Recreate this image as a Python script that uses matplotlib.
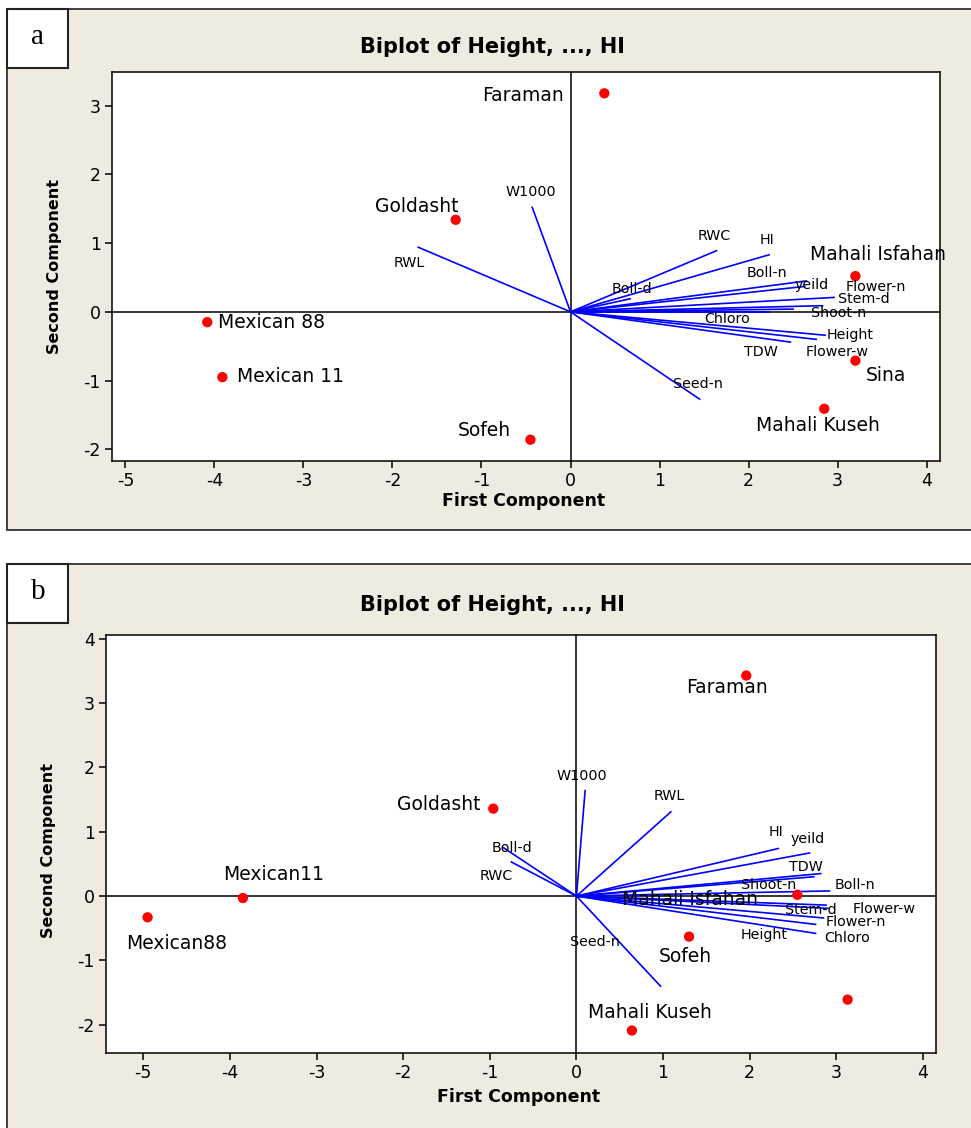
"""Two PCA biplots (panel a and panel b), Minitab style."""

import matplotlib
matplotlib.use('Agg')
import matplotlib.pyplot as plt
from matplotlib.patches import Rectangle

# Data
# Panel a - observations (scores)
obs_names_a = ['Faraman', 'Goldasht', 'Mexican 88', 'Mexican 11', 'Sofeh',
               'Mahali Isfahan', 'Sina', 'Mahali Kuseh']
obs_x_a = [0.38, -1.29, -4.08, -3.91, -0.45, 3.20, 3.20, 2.85]
obs_y_a = [3.18, 1.34, -0.15, -0.95, -1.86, 0.52, -0.71, -1.41]

# Panel a - variables (loadings)
var_names_a = ['W1000', 'RWL', 'RWC', 'HI', 'Boll-d', 'Boll-n', 'yeild',
               'Flower-n', 'Stem-d', 'Shoot-n', 'Chloro', 'Height',
               'Flower-w', 'TDW', 'Seed-n']
var_x_a = [-0.43, -1.71, 1.64, 2.23, 0.67, 2.65, 2.63, 2.96, 2.83, 2.50,
           2.23, 2.86, 2.76, 2.47, 1.45]
var_y_a = [1.52, 0.94, 0.89, 0.83, 0.19, 0.45, 0.37, 0.21, 0.09, 0.04,
           0.00, -0.34, -0.40, -0.44, -1.27]

# Panel b - observations
obs_names_b = ['Faraman', 'Goldasht', 'Mexican11', 'Mexican88', 'Sofeh',
               'Mahali Isfahan', 'Mahali Kuseh', '']
obs_x_b = [1.96, -0.96, -3.85, -4.95, 1.30, 2.55, 0.64, 3.13]
obs_y_b = [3.43, 1.36, -0.03, -0.33, -0.63, 0.02, -2.09, -1.61]

# Panel b - variables
var_names_b = ['W1000', 'RWL', 'Boll-d', 'RWC', 'Seed-n', 'HI', 'yeild',
               'TDW', 'Shoot-n', 'Boll-n', 'Stem-d', 'Flower-w', 'Flower-n',
               'Height', 'Chloro']
var_x_b = [0.10, 1.09, -0.84, -0.75, 0.97, 2.33, 2.69, 2.82, 2.74, 2.92,
           2.88, 2.90, 2.85, 2.76, 2.76]
var_y_b = [1.64, 1.31, 0.75, 0.53, -1.40, 0.74, 0.67, 0.35, 0.30, 0.08,
           -0.14, -0.19, -0.34, -0.44, -0.58]

# Label positions (data coords, text centres)
obs_lab_a = [(-0.53, 3.15), (-1.73, 1.54), (-3.36, -0.15), (-3.15, -0.94),
             (-0.97, -1.73), (3.45, 0.83), (3.54, -0.92), (2.78, -1.66)]
var_lab_a = [(-0.45, 1.74), (-1.81, 0.71), (1.61, 1.10), (2.21, 1.05),
             (0.69, 0.33), (2.21, 0.57), (2.71, 0.39), (3.43, 0.36),
             (3.29, 0.18), (3.01, -0.02), (1.76, -0.10), (3.14, -0.34),
             (3.00, -0.59), (2.14, -0.59), (1.43, -1.05)]
obs_lab_b = [(1.74, 3.24), (-1.59, 1.42), (-3.50, 0.33), (-4.62, -0.73),
             (1.26, -0.94), (1.31, -0.06), (0.85, -1.81), (0, 0)]
var_lab_b = [(0.06, 1.87), (1.07, 1.55), (-0.74, 0.75), (-0.92, 0.32),
             (0.21, -0.71), (2.30, 0.99), (2.67, 0.89), (2.65, 0.46),
             (2.22, 0.18), (3.22, 0.18), (2.70, -0.21), (3.55, -0.20),
             (3.23, -0.41), (2.17, -0.60), (3.12, -0.65)]

x_ticks = [-5, -4, -3, -2, -1, 0, 1, 2, 3, 4]
y_ticks_a = [-2, -1, 0, 1, 2, 3]
y_ticks_b = [-2, -1, 0, 1, 2, 3, 4]

W, H = 971, 1128
BEIGE = '#efebe1'

plt.rcParams['font.family'] = ['DejaVu Sans']
plt.rcParams['axes.unicode_minus'] = False

fig = plt.figure(figsize=(W / 100, H / 100), dpi=100)
fig.patch.set_facecolor('white')


def fx(px):
    return px / W


def fy(py):
    return 1 - py / H


def frame(left, top, right, bottom, label):
    # beige panel and the little white label box
    fig.add_artist(Rectangle((fx(left), fy(bottom)), fx(right - left), (bottom - top) / H,
                             transform=fig.transFigure, facecolor=BEIGE,
                             edgecolor='#333333', lw=1.3, zorder=-2))
    fig.add_artist(Rectangle((fx(left), fy(top + 59)), fx(61), 59 / H,
                             transform=fig.transFigure, facecolor='white',
                             edgecolor='#222222', lw=1.5, zorder=-1))
    fig.text(fx(left + 31), fy(top + 28), label, fontsize=21,
             family='Liberation Serif', ha='center', va='center')


def biplot(ax, ox, oy, onames, olab, vx, vy, vnames, vlab, xlim, ylim, yticks):
    ax.set_facecolor('white')
    ax.axhline(0, color='black', lw=1.1, zorder=1)
    ax.axvline(0, color='black', lw=1.1, zorder=1)
    for x, y in zip(vx, vy):
        ax.plot([0, x], [0, y], color='#0000ff', lw=1.2, zorder=2)
    for name, (tx, ty) in zip(vnames, vlab):
        ax.text(tx, ty, name, fontsize=10.3, ha='center', va='center', zorder=4)
    ax.scatter(ox, oy, s=55, color='#ff0000', edgecolors='none', zorder=3)
    for name, (tx, ty) in zip(onames, olab):
        if name:
            ax.text(tx, ty, name, fontsize=13.5, ha='center', va='center', zorder=4)
    ax.set_xlim(xlim)
    ax.set_ylim(ylim)
    ax.set_xticks(x_ticks)
    ax.set_yticks(yticks)
    ax.tick_params(direction='out', length=5, width=1.1, labelsize=12.5, pad=3)
    for s in ax.spines.values():
        s.set_linewidth(1.1)


# Panel a
frame(7, 9, 975, 530, 'a')
ax_a = fig.add_axes([fx(112), fy(461), fx(940 - 112), (461 - 72) / H])
biplot(ax_a, obs_x_a, obs_y_a, obs_names_a, obs_lab_a, var_x_a, var_y_a,
       var_names_a, var_lab_a, (-5.15, 4.15), (-2.17, 3.49), y_ticks_a)
fig.text(fx(492), fy(47), 'Biplot of Height, ..., HI', fontsize=15,
         fontweight='bold', ha='center', va='center')
fig.text(fx(524), fy(501), 'First Component', fontsize=12.5, fontweight='bold',
         ha='center', va='center')
fig.text(fx(55), fy(266), 'Second Component', fontsize=11.5, fontweight='bold',
         ha='center', va='center', rotation=90)

# Panel b
frame(7, 564, 975, 1135, 'b')
ax_b = fig.add_axes([fx(106), fy(1053), fx(936 - 106), (1053 - 635) / H])
biplot(ax_b, obs_x_b, obs_y_b, obs_names_b, obs_lab_b, var_x_b, var_y_b,
       var_names_b, var_lab_b, (-5.43, 4.15), (-2.44, 4.06), y_ticks_b)
fig.text(fx(492), fy(605), 'Biplot of Height, ..., HI', fontsize=15,
         fontweight='bold', ha='center', va='center')
fig.text(fx(519), fy(1097), 'First Component', fontsize=12.5, fontweight='bold',
         ha='center', va='center')
fig.text(fx(48), fy(851), 'Second Component', fontsize=11.5, fontweight='bold',
         ha='center', va='center', rotation=90)

fig.savefig('out.png', dpi=100)
